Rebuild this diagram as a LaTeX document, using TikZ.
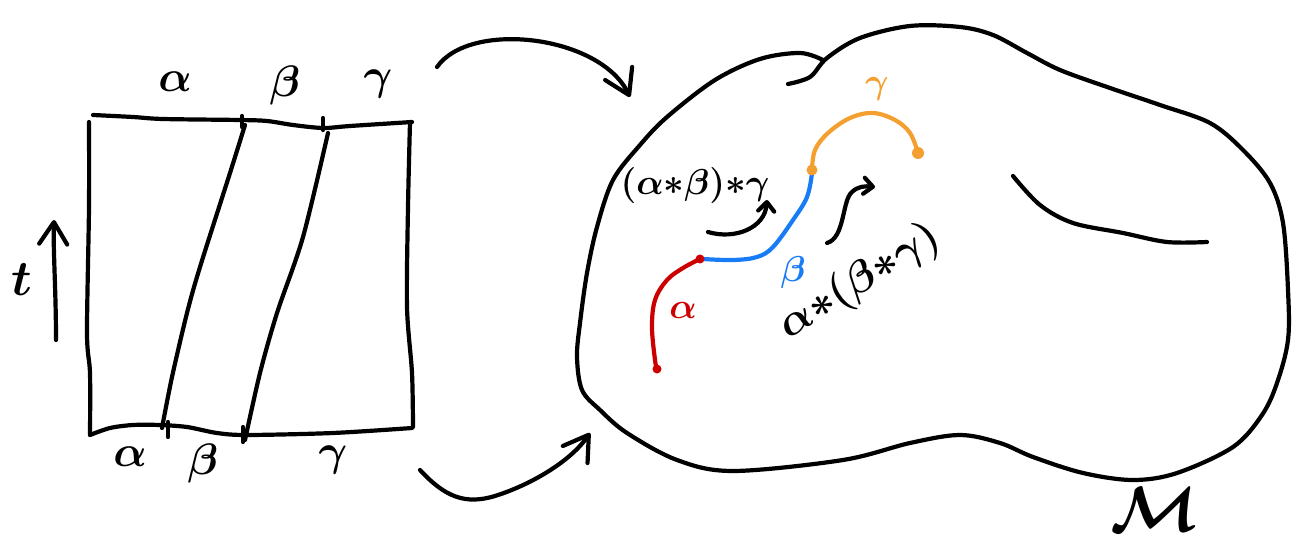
\RequirePackage{fix-cm}
\documentclass[tikz,border=0pt]{standalone}
\usetikzlibrary{arrows.meta}
\definecolor{cred}{RGB}{204,0,0}
\definecolor{cblue}{RGB}{24,125,245}
\definecolor{corange}{RGB}{244,160,48}
\tikzset{
  ink/.style={line width=4.2pt,line cap=round,line join=round},
  bigarrow/.style={-{Straight Barb[length=24pt,width=30pt,line cap=round,line join=round]}},
  smallarrow/.style={-{Straight Barb[length=9pt,width=16pt,line cap=round,line join=round]}},
  lab/.style={inner sep=0pt,font=\fontsize{44}{44}\selectfont\boldmath},
  clab/.style={inner sep=0pt,font=\fontsize{36}{36}\selectfont\boldmath},
  expr/.style={inner sep=0pt,font=\fontsize{36}{36}\selectfont\boldmath},
}
\begin{document}
\begin{tikzpicture}[x=1pt,y=-1pt]
\useasboundingbox (0,0) rectangle (1312,548);

% ---- square ----
\draw[ink] plot[smooth,tension=0.5] coordinates {(93,115)(133,117)(163,119)(240,120)(267,121)(293,125)(323,128)(350,126)(412,122)};
\draw[ink] plot[smooth,tension=0.5] coordinates {(89,122)(89,207)(87,333)(90,373)(90,435)};
\draw[ink] plot[smooth,tension=0.5] coordinates {(90,435)(110,428)(133,425)(160,425)(187,427)(217,433)(247,435)(333,433)(412,428)};
\draw[ink] plot[smooth,tension=0.5] coordinates {(410,122)(408,207)(407,307)(412,373)(413,427)};
\draw[ink] plot[smooth,tension=0.5] coordinates {(245,125)(230,173)(200,267)(187,313)(172,377)(162,428)};
\draw[ink] plot[smooth,tension=0.5] coordinates {(328,133)(303,237)(277,313)(260,373)(245,440)};
\draw[ink] (242,116) -- (242,127);
\draw[ink] (323,118) -- (323,130);
\draw[ink] (168,422) -- (168,437);
\draw[ink] (243,427) -- (243,442);

\node[lab] (ta) at (175,82) {$\alpha$};
\node[lab] (tb) at (285,86) {$\beta$};
\node[lab] (tg) at (378,84) {$\gamma$};
\node[lab] (ba) at (130,457) {$\alpha$};
\node[lab] (bb) at (203,463) {$\beta$};
\node[lab] (bg) at (333,460) {$\gamma$};
\node[inner sep=0pt,font=\fontsize{50}{50}\selectfont\boldmath] (tt) at (22,280) {$t$};

\coordinate (tstart) at (56,340);
\coordinate (tend) at (54,220);
\draw[ink,-{Straight Barb[length=22pt,width=28pt,line cap=round,line join=round]}] (tstart) .. controls (56,290) and (53,250) .. (tend);

% ---- maps ----
\coordinate (topstart) at (437,67);
\coordinate (topend) at (630,97);
\draw[ink,bigarrow] (topstart) .. controls (470,20) and (600,35) .. (topend);
\coordinate (botstart) at (420,470);
\coordinate (botmid) at (495,496);
\coordinate (botend) at (590,433);
\draw[ink,bigarrow] (botstart) .. controls (445,497) and (465,505) .. (botmid)
  .. controls (530,485) and (570,462) .. (botend);

% ---- manifold ----
\draw[ink] plot[smooth,tension=0.55] coordinates {(788,84)(810,77)(827,58)(860,38)(910,26)(960,27)(993,35)(1027,53)(1060,70)(1110,88)(1160,105)(1210,123)(1243,150)(1270,183)(1283,223)(1288,290)(1288,340)(1277,383)(1262,415)(1233,447)(1177,473)(1133,480)(1083,473)(1033,457)(1000,443)(960,435)(910,443)(843,460)(733,471)(677,460)(627,433)(600,410)(582,390)(577,357)(580,323)(587,273)(597,227)(613,180)(640,145)(667,117)(715,80)(760,59)(800,53)(823,60)};
\draw[ink] plot[smooth,tension=0.55] coordinates {(1013,176)(1040,205)(1073,223)(1123,233)(1167,242)(1207,242)};

% ---- paths ----
\draw[ink,cred] plot[smooth,tension=0.6] coordinates {(657,369)(655,360)(652,327)(655,300)(667,280)(683,268)(700,259)};
\draw[ink,cblue] plot[smooth,tension=0.6] coordinates {(703,259)(733,260)(757,257)(773,247)(793,220)(807,197)(812,173)};
\draw[ink,corange] plot[smooth,tension=0.6] coordinates {(812,170)(815,150)(828,133)(850,118)(873,113)(895,120)(910,133)(918,153)};
\fill[cred] (700,259) circle (4.5) (657,369) circle (4.5);
\fill[corange] (812,170) circle (5.5) (918,153) circle (6);

\node[clab,corange] (og) at (877,89) {$\gamma$};
\node[clab,cblue] (ob) at (793,272) {$\beta$};
\node[clab,cred] (oa) at (683,310) {$\alpha$};

\node[expr] (e1) at (695,186) {$(\alpha{*}\beta){*}\gamma$};
\node[expr,font=\fontsize{44}{44}\selectfont\boldmath,rotate=32] (e2) at (860,282) {$\alpha{*}(\beta{*}\gamma)$};

\coordinate (a1s) at (708,232);
\coordinate (a1e) at (767,200);
\draw[ink,smallarrow] (a1s) .. controls (735,240) and (765,228) .. (a1e);
\coordinate (a2s) at (827,243);
\coordinate (a2m) at (852,192);
\coordinate (a2e) at (875,187);
\draw[ink,smallarrow] (a2s) .. controls (845,238) and (842,200) .. (a2m)
  .. controls (858,186) and (866,186) .. (a2e);

\node[inner sep=0pt,font=\fontsize{64}{64}\selectfont\boldmath] (M) at (1155,510) {$\mathcal{M}$};
\end{tikzpicture}
\end{document}
